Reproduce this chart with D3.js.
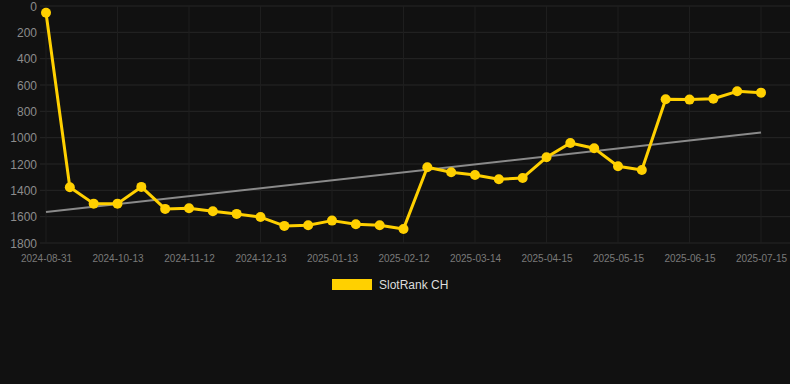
<!DOCTYPE html>
<html>
<head>
<meta charset="utf-8">
<script src="https://cdn.jsdelivr.net/npm/d3@7"></script>
<style>
  html, body { margin: 0; padding: 0; background: #111111; }
  svg { display: block; }
</style>
</head>
<body>
<svg id="chart" width="790" height="384"></svg>
<script>
const dates = [
  "2024-08-31","2024-09-14","2024-09-28","2024-10-13","2024-10-23","2024-11-02",
  "2024-11-12","2024-11-22","2024-12-03","2024-12-13","2024-12-23","2025-01-03",
  "2025-01-13","2025-01-23","2025-02-02","2025-02-12","2025-02-22","2025-03-04",
  "2025-03-14","2025-03-25","2025-04-04","2025-04-15","2025-04-25","2025-05-05",
  "2025-05-15","2025-05-25","2025-06-04","2025-06-15","2025-06-25","2025-07-05",
  "2025-07-15"
];
const ranks = [
  51, 1377, 1501, 1501, 1374, 1541, 1536, 1559, 1579, 1603, 1670,
  1665, 1630, 1658, 1665, 1693, 1225, 1263, 1283, 1316, 1306,
  1149, 1040, 1081, 1217, 1245, 708, 711, 704, 648, 658
];
const tickDates = dates.filter((d, i) => i % 3 === 0);
const yTicks = [0, 200, 400, 600, 800, 1000, 1200, 1400, 1600, 1800];
const seriesName = "SlotRank CH";

const svg = d3.select("#chart");
const W = 790, H = 384;
const plotLeft = 40, plotRight = 790, plotTop = 6, plotBottom = 243;
const font = "'Liberation Sans', Arial, Helvetica, sans-serif";
const gold = "#FFD000";

svg.append("rect").attr("width", W).attr("height", H).attr("fill", "#111111");

const x = d3.scalePoint().domain(dates).range([46, 761]);
const y = d3.scaleLinear().domain([0, 1800]).range([plotTop, plotBottom]);

// horizontal grid
svg.append("g").selectAll("line").data(yTicks).join("line")
  .attr("x1", plotLeft).attr("x2", plotRight)
  .attr("y1", d => y(d)).attr("y2", d => y(d))
  .attr("stroke", "#262626").attr("stroke-width", 1);

// vertical grid
svg.append("g").selectAll("line").data(tickDates).join("line")
  .attr("x1", d => x(d)).attr("x2", d => x(d))
  .attr("y1", plotTop).attr("y2", plotBottom)
  .attr("stroke", "#1e1e1e").attr("stroke-width", 1);

// y axis
const yAxis = svg.append("g")
  .attr("transform", `translate(${plotLeft - 3},0)`)
  .call(d3.axisLeft(y).tickValues(yTicks).tickSize(0).tickPadding(0).tickFormat(d3.format("d")));
yAxis.select(".domain").remove();
yAxis.selectAll("text")
  .attr("fill", "#8c8c8c").attr("font-size", 12).attr("font-family", font)
  .attr("dy", "0.34em");

// x axis
const xAxis = svg.append("g")
  .attr("transform", `translate(0,${plotBottom})`)
  .call(d3.axisBottom(x).tickValues(tickDates).tickSize(0).tickPadding(0));
xAxis.select(".domain").remove();
xAxis.selectAll("text")
  .attr("fill", "#7a7a7a").attr("font-size", 10).attr("font-family", font)
  .attr("dy", 0).attr("y", 19);

// trend line (least squares)
const n = ranks.length;
const idx = d3.range(n);
const mx = d3.mean(idx), my = d3.mean(ranks);
const slope = d3.sum(idx, i => (i - mx) * (ranks[i] - my)) / d3.sum(idx, i => (i - mx) ** 2);
const icpt = my - slope * mx;
svg.append("line")
  .attr("x1", x(dates[0])).attr("y1", y(icpt))
  .attr("x2", x(dates[n - 1])).attr("y2", y(icpt + slope * (n - 1)))
  .attr("stroke", "#8a8a8a").attr("stroke-width", 2);

// series line
const line = d3.line().x((d, i) => x(dates[i])).y(d => y(d));
svg.append("path").datum(ranks)
  .attr("d", line).attr("fill", "none")
  .attr("stroke", gold).attr("stroke-width", 3).attr("stroke-linejoin", "round");

svg.append("g").selectAll("circle").data(ranks).join("circle")
  .attr("cx", (d, i) => x(dates[i])).attr("cy", d => y(d))
  .attr("r", 5).attr("fill", gold);

// legend
const lg = svg.append("g");
lg.append("rect").attr("x", 332).attr("y", 279).attr("width", 40).attr("height", 11)
  .attr("fill", gold);
lg.append("text").attr("x", 379).attr("y", 289)
  .attr("fill", "#dddddd").attr("font-size", 12).attr("font-family", font)
  .text(seriesName);
</script>
</body>
</html>
